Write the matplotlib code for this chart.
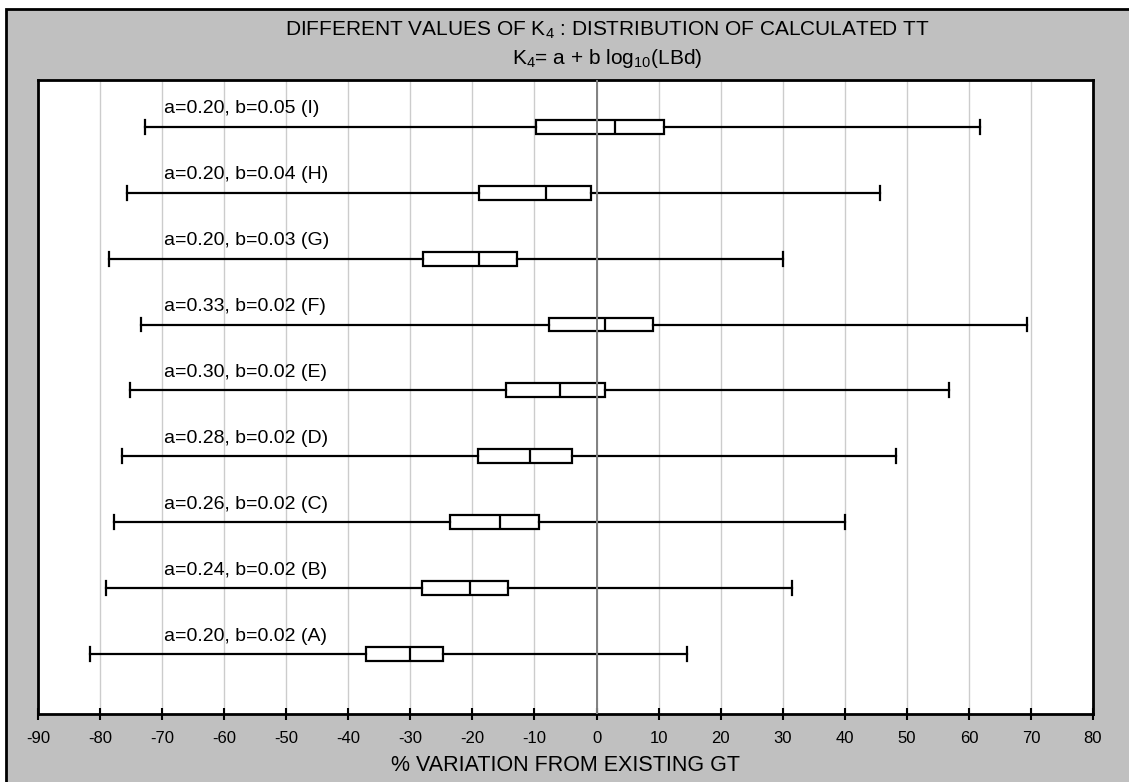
import matplotlib.pyplot as plt
from matplotlib.patches import Rectangle

plt.rcParams['font.family'] = ['Liberation Sans', 'DejaVu Sans']

# data, bottom to top (A..I)
labels = ['a=0.20, b=0.02 (A)', 'a=0.24, b=0.02 (B)', 'a=0.26, b=0.02 (C)',
          'a=0.28, b=0.02 (D)', 'a=0.30, b=0.02 (E)', 'a=0.33, b=0.02 (F)',
          'a=0.20, b=0.03 (G)', 'a=0.20, b=0.04 (H)', 'a=0.20, b=0.05 (I)']
whis_lo = [-81.6, -79.0, -77.7, -76.5, -75.2, -73.4, -78.6, -75.7, -72.7]
q1 = [-37.1, -28.1, -23.6, -19.1, -14.6, -7.7, -28.0, -18.9, -9.7]
med = [-30.0, -20.4, -15.5, -10.7, -5.9, 1.3, -19.0, -8.1, 2.9]
q3 = [-24.7, -14.3, -9.2, -3.9, 1.4, 9.1, -12.8, -0.9, 10.8]
whis_hi = [14.5, 31.5, 40.0, 48.3, 56.8, 69.4, 30.0, 45.6, 61.8]
xticks = list(range(-90, 81, 10))

W, H = 1129, 782
fig = plt.figure(figsize=(W / 100, H / 100), dpi=100, facecolor='white')

# gray chart area with black border (runs off the right and bottom edges)
fig.patches.append(Rectangle((6 / W, -0.1), 1.2, (H - 9) / H + 0.1,
                             transform=fig.transFigure, facecolor='#c0c0c0',
                             edgecolor='black', lw=2, zorder=-10))

ax = fig.add_axes([38 / W, (H - 714) / H, (1093 - 38) / W, (714 - 80) / H])
ax.set_facecolor('white')

stats = []
for i in range(len(labels)):
    stats.append(dict(med=med[i], q1=q1[i], q3=q3[i], whislo=whis_lo[i],
                      whishi=whis_hi[i], fliers=[]))
pos = list(range(1, len(labels) + 1))

ax.bxp(stats, positions=pos, vert=False, widths=0.21, capwidths=0.21,
       patch_artist=True, showfliers=False,
       boxprops=dict(facecolor='white', edgecolor='black', lw=1.6),
       whiskerprops=dict(color='black', lw=1.6),
       capprops=dict(color='black', lw=1.6),
       medianprops=dict(color='black', lw=1.6))

for p, lab in zip(pos, labels):
    ax.text(-69.7, p + 0.27, lab, ha='left', va='center', fontsize=14)

ax.axvline(0, color='#808080', lw=1.4, zorder=3)
ax.set_axisbelow(True)
ax.grid(axis='x', color='#cccccc', lw=1)
ax.set_xlim(-90, 80)
ax.set_ylim(0.09, 9.71)
ax.set_xticks(xticks)
ax.set_xticklabels([str(t) for t in xticks], fontsize=12)
ax.set_yticks([])
ax.tick_params(axis='x', direction='inout', length=9, width=1.5, pad=8)
for s in ax.spines.values():
    s.set_linewidth(2)
    s.set_color('black')
ax.set_xlabel('% VARIATION FROM EXISTING GT', fontsize=15.5, labelpad=6)

fig.text(607 / W, 1 - 30 / H, r'DIFFERENT VALUES OF K$_\mathregular{4}$ : DISTRIBUTION OF CALCULATED TT',
         ha='center', va='center', fontsize=15)
fig.text(607 / W, 1 - 59 / H, r'K$_\mathregular{4}$= a + b log$_\mathregular{10}$(LBd)',
         ha='center', va='center', fontsize=15)

fig.savefig('out.png', dpi=100, facecolor='white')
